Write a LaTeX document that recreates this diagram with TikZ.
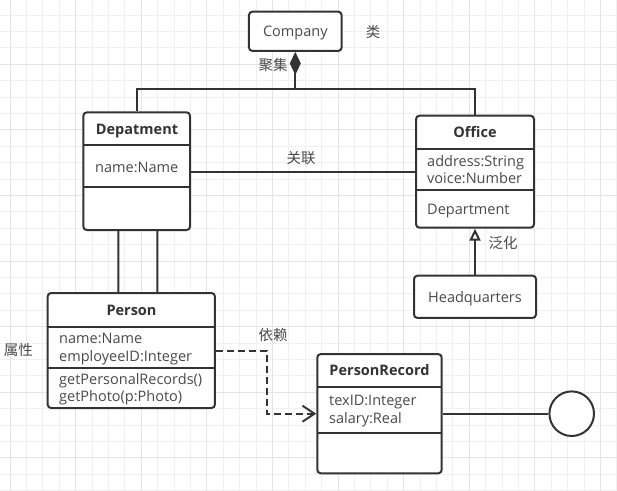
\documentclass[tikz,border=0pt]{standalone}
\usepackage{fontspec}
\setmainfont{Open Sans}
\newfontfamily\cjk{Noto Sans CJK SC}
\usetikzlibrary{arrows.meta}
\definecolor{ink}{HTML}{333333}
\definecolor{txt}{HTML}{4A4A4A}
\definecolor{gmin}{HTML}{F0F0F0}
\definecolor{gmaj}{HTML}{E4E4E4}
\tikzset{
  cls/.style={draw=ink, line width=2bp, fill=white, rounded corners=3.5bp, inner sep=0pt},
  ln/.style={draw=ink, line width=2bp},
  ttl/.style={font=\bfseries\fontsize{14.5bp}{17bp}\selectfont, text=ink, inner sep=0pt, text height=10.4bp, text depth=0bp},
  att/.style={font=\fontsize{14.5bp}{17bp}\selectfont, text=txt, inner sep=0pt, anchor=west, text height=10.4bp, text depth=0bp},
  plain/.style={font=\fontsize{14.5bp}{17bp}\selectfont, text=txt, inner sep=0pt, text height=10.4bp, text depth=0bp},
  note/.style={font=\cjk\fontsize{14.5bp}{17bp}\selectfont, text=txt, inner sep=0pt},
  gminor/.style={draw=gmin, line width=1bp},
  gmajor/.style={draw=gmaj, line width=1bp}
}
\begin{document}
\begin{tikzpicture}[x=1bp, y=-1bp]
\useasboundingbox (0,0) rectangle (617,491);
\fill[white] (0,0) rectangle (617,491);
% grid
\foreach \i in {0,...,37} \draw[gminor] ({10+16.4*\i},0) -- ({10+16.4*\i},491);
\foreach \i in {-1,...,29} \draw[gminor] (0,{15.1+16.4*\i}) -- (617,{15.1+16.4*\i});
\foreach \i in {0,...,9} \draw[gmajor] ({10+65.6*\i},0) -- ({10+65.6*\i},491);
\foreach \i in {-1,...,6} \draw[gmajor] (0,{64.3+65.6*\i}) -- (617,{64.3+65.6*\i});

% Company
\node[cls, minimum width=92.7bp, minimum height=39.3bp] (comp) at (295.3,31.3) {};
\node[plain] (compT) at (295.3,31.5) {Company};
\node[note] (lblclass) at (373,32) {类};

% Depatment
\node[cls, minimum width=106.7bp, minimum height=117.7bp] (dep) at (136.7,171.2) {};
\draw[ln] (83.3,145) -- (190,145);
\draw[ln] (83.3,187.3) -- (190,187.3);
\node[ttl] (depT) at (137,129) {Depatment};
\node[att] (depA) at (95,167) {name:Name};

% Office
\node[cls, minimum width=118bp, minimum height=112bp] (off) at (475,171.7) {};
\draw[ln] (416,149) -- (534,149);
\draw[ln] (416,190) -- (534,190);
\node[ttl] (offT) at (475,132) {Office};
\node[att] (offA1) at (427,161) {address:String};
\node[att] (offA2) at (427,178) {voice:Number};
\node[att] (offM1) at (427,209) {Department};

% Headquarters
\node[cls, minimum width=122bp, minimum height=42.3bp] (hq) at (475,296.8) {};
\node[plain] (hqT) at (475,297) {Headquarters};

% Person
\node[cls, minimum width=167.3bp, minimum height=115bp] (per) at (131.3,350.5) {};
\draw[ln] (47.7,326.7) -- (215,326.7);
\draw[ln] (47.7,367.7) -- (215,367.7);
\node[ttl] (perT) at (131.5,310) {Person};
\node[att] (perA1) at (59,338.3) {name:Name};
\node[att] (perA2) at (59,356) {employeeID:Integer};
\node[att] (perM1) at (59,379) {getPersonalRecords()};
\node[att] (perM2) at (59,396.7) {getPhoto(p:Photo)};

% PersonRecord
\node[cls, minimum width=124.4bp, minimum height=119.3bp] (prec) at (379.5,413.7) {};
\draw[ln] (317.3,386.7) -- (441.7,386.7);
\draw[ln] (317.3,432.7) -- (441.7,432.7);
\node[ttl] (precT) at (379.5,370.7) {PersonRecord};
\node[att] (precA1) at (329,400) {texID:Integer};
\node[att] (precA2) at (329,418.3) {salary:Real};

% interface circle
\node[circle, draw=ink, line width=2bp, fill=white, minimum size=44.6bp, inner sep=0pt] (ifc) at (571.7,413.7) {};

% connectors
\coordinate (jn) at (295.3,89.3);
\draw[ln] (dep.north) |- (jn) -| (off.north);
\draw[ln, {Diamond[length=23bp, width=11bp]}-] (comp.south) -- (jn);
\node[note] (lblagg) at (273,65) {聚集};

\draw[ln] (dep.east |- off.west) -- (off.west);
\node[note] (lblassoc) at (301,158) {关联};

\draw[ln] ([xshift=-18.4bp]dep.south) -- ([xshift=-13bp]per.north);
\draw[ln] ([xshift=20.6bp]dep.south) -- ([xshift=26bp]per.north);

\draw[ln, -{Triangle[open, length=12bp, width=11bp, line width=2bp]}] (hq.north) -- (off.south);
\node[note] (lblgen) at (503,243) {泛化};

\draw[ln, dash pattern=on 7bp off 4bp, -{Straight Barb[length=12bp, width=16bp, line width=2bp]}] (per.east) -- ++(51,0) |- (prec.west);
\node[note] (lbldep) at (273,335) {依赖};

\node[note] (lblattr) at (18.3,350) {属性};

\draw[ln] (prec.east) -- (ifc.west);
\end{tikzpicture}
\end{document}
